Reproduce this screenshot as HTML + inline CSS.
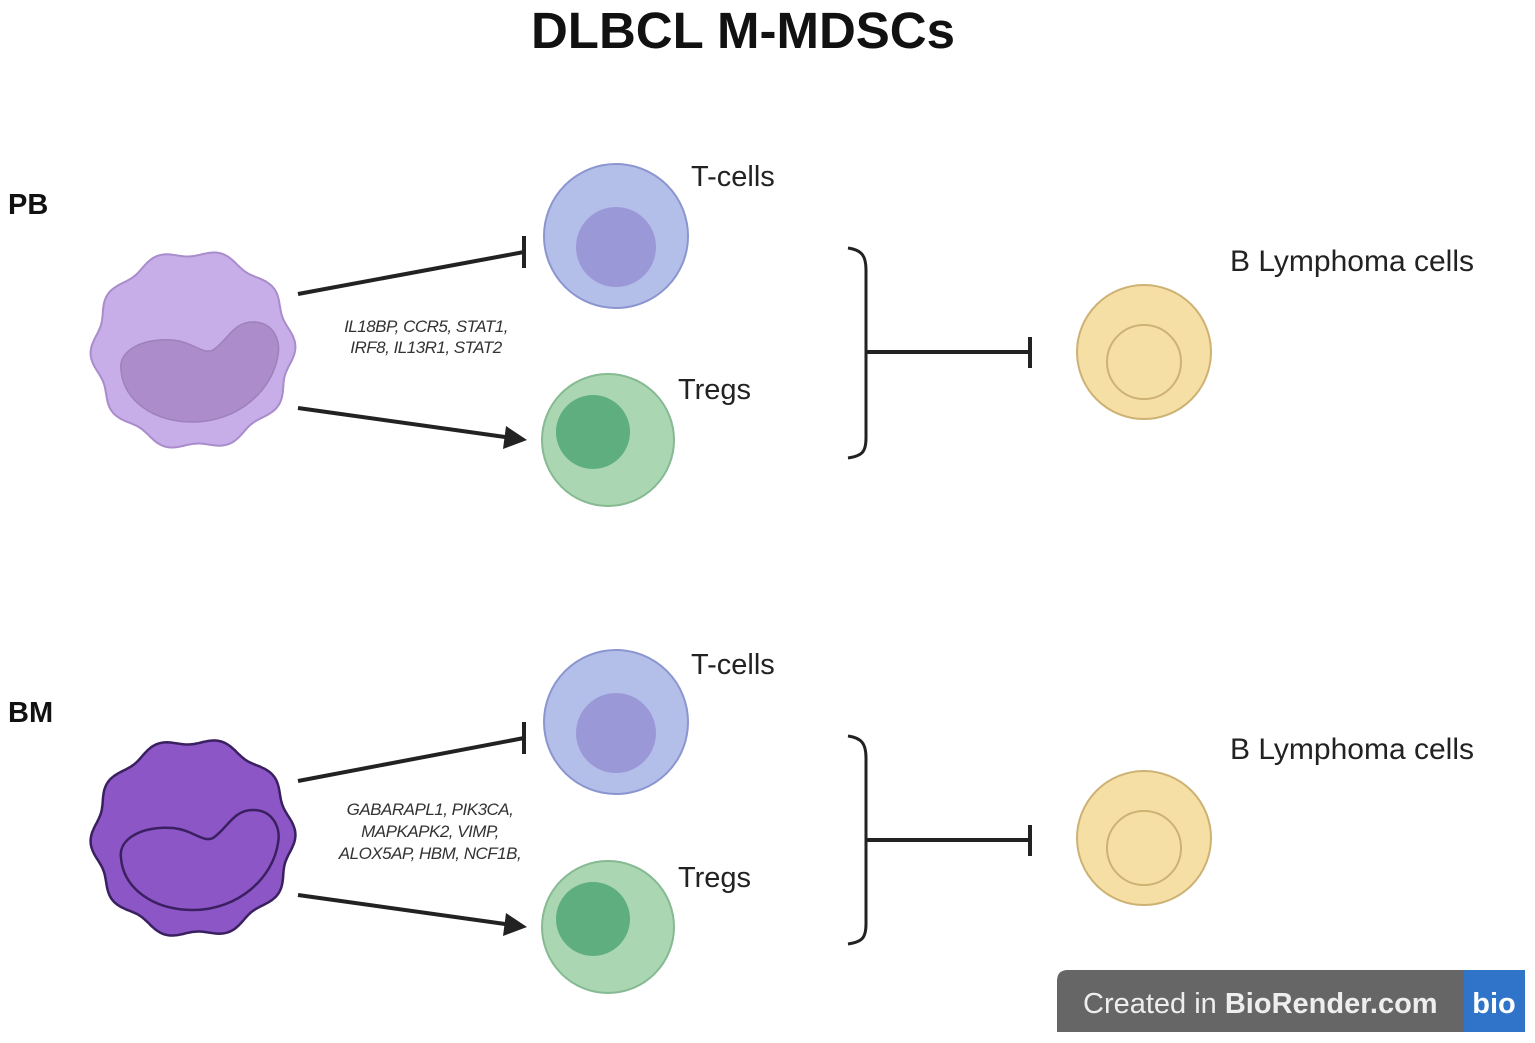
<!DOCTYPE html>
<html><head><meta charset="utf-8"><style>
html,body{margin:0;padding:0;background:#fff}
svg{display:block}
text{font-family:"Liberation Sans",sans-serif}
</style></head><body>
<svg id="s" width="1535" height="1043" viewBox="0 0 1535 1043" xmlns="http://www.w3.org/2000/svg">
<text x="743" y="48" text-anchor="middle" font-size="51" font-weight="bold" fill="#111">DLBCL M-MDSCs</text>
<text x="8" y="214" font-size="29" font-weight="bold" fill="#111">PB</text>
<text x="8" y="722" font-size="29" font-weight="bold" fill="#111">BM</text>

<path id="c1" fill="#c7aee8" stroke="#a98ccc" stroke-width="2"/>
<g transform="translate(193,350)"><path d="M-72,20 C-75,0 -50,-12 -20,-10 C0,-8 10,5 20,0 C35,-10 40,-28 60,-28 C80,-28 88,-10 85,5 C80,40 45,72 0,72 C-40,72 -70,50 -72,20 Z" fill="#ad8ccb" stroke="#9e80bf" stroke-width="1.5"/></g>
<path id="c2" fill="#8c56c6" stroke="#3a2060" stroke-width="2.5"/>
<g transform="translate(193,838)"><path d="M-72,20 C-75,0 -50,-12 -20,-10 C0,-8 10,5 20,0 C35,-10 40,-28 60,-28 C80,-28 88,-10 85,5 C80,40 45,72 0,72 C-40,72 -70,50 -72,20 Z" fill="none" stroke="#3a2060" stroke-width="2.5"/></g>

<g stroke="#222" stroke-width="4" fill="none">
<line x1="298" y1="294" x2="524" y2="252"/><line x1="524" y1="236" x2="524" y2="268"/>
<line x1="298" y1="408" x2="505" y2="437"/>
<line x1="298" y1="781" x2="524" y2="738"/><line x1="524" y1="722" x2="524" y2="754"/>
<line x1="298" y1="895" x2="505" y2="924"/>
<path d="M848,248 C862,250 866,256 866,270 L866,438 C866,452 862,456 848,458" stroke-width="3"/>
<line x1="866" y1="352" x2="1030" y2="352"/><line x1="1030" y1="337" x2="1030" y2="368"/>
<path d="M848,736 C862,738 866,744 866,758 L866,924 C866,938 862,942 848,944" stroke-width="3"/>
<line x1="866" y1="840" x2="1030" y2="840"/><line x1="1030" y1="825" x2="1030" y2="856"/>
</g>
<polygon points="527,440 503,449 506,426" fill="#222"/>
<polygon points="527,927 503,936 506,913" fill="#222"/>
<g font-style="italic" font-size="17" fill="#333" text-anchor="middle" letter-spacing="-0.5">
<text x="426" y="332">IL18BP, CCR5, STAT1,</text>
<text x="426" y="353">IRF8, IL13R1, STAT2</text>
<text x="430" y="815">GABARAPL1, PIK3CA,</text>
<text x="430" y="837">MAPKAPK2, VIMP,</text>
<text x="430" y="859">ALOX5AP, HBM, NCF1B,</text>
</g>

<g>
<circle cx="616" cy="236" r="72" fill="#b4bfe9" stroke="#8b95cf" stroke-width="2"/>
<circle cx="616" cy="247" r="40" fill="#9b98d8"/>
<circle cx="608" cy="440" r="66" fill="#aad6b2" stroke="#86ba92" stroke-width="2"/>
<circle cx="593" cy="432" r="37" fill="#5fae80"/>
<circle cx="616" cy="722" r="72" fill="#b4bfe9" stroke="#8b95cf" stroke-width="2"/>
<circle cx="616" cy="733" r="40" fill="#9b98d8"/>
<circle cx="608" cy="927" r="66" fill="#aad6b2" stroke="#86ba92" stroke-width="2"/>
<circle cx="593" cy="919" r="37" fill="#5fae80"/>
<circle cx="1144" cy="352" r="67" fill="#f6dfa5" stroke="#cdb274" stroke-width="2"/>
<circle cx="1144" cy="362" r="37" fill="#f6dfa5" stroke="#cdb274" stroke-width="2"/>
<circle cx="1144" cy="838" r="67" fill="#f6dfa5" stroke="#cdb274" stroke-width="2"/>
<circle cx="1144" cy="848" r="37" fill="#f6dfa5" stroke="#cdb274" stroke-width="2"/>
</g>
<g font-size="29" fill="#222">
<text x="691" y="186">T-cells</text>
<text x="678" y="399">Tregs</text>
<text x="1230" y="271" font-size="30">B Lymphoma cells</text>
<text x="691" y="674">T-cells</text>
<text x="678" y="887">Tregs</text>
<text x="1230" y="759" font-size="30">B Lymphoma cells</text>
</g>

<path d="M1068,970 L1464,970 L1464,1032 L1057,1032 L1057,981 Q1057,970 1068,970 Z" fill="#666"/>
<rect x="1464" y="970" width="61" height="62" fill="#2f74c8"/>
<text x="1083" y="1013" font-size="29" fill="#eee">Created in <tspan font-weight="bold">BioRender.com</tspan></text>
<text x="1494" y="1013" font-size="29" font-weight="bold" fill="#fff" text-anchor="middle">bio</text>
</svg>
<script>
function wavy(cx,cy,rx,ry,n,a){var d="";for(var i=0;i<=360;i++){var t=i/360*2*Math.PI;var r=1+a*Math.cos(n*t+0.4);var x=cx+rx*r*Math.cos(t),y=cy+ry*r*Math.sin(t);d+=(i?"L":"M")+x.toFixed(1)+","+y.toFixed(1);}return d+"Z";}
document.getElementById("c1").setAttribute("d",wavy(193,350,99,97,10,0.035));
document.getElementById("c2").setAttribute("d",wavy(193,838,99,97,10,0.035));
</script>
</body></html>
